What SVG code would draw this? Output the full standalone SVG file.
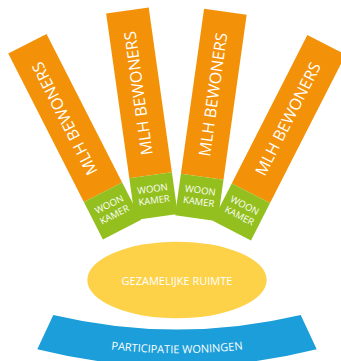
<svg xmlns="http://www.w3.org/2000/svg" width="341" height="361" viewBox="0 0 341 361">
<style>
.or{fill:#F39208}
.gr{fill:#93C01F}
.t{fill:#fff;font-family:"Open Sans","Liberation Sans",sans-serif}
.big{font-size:16px;text-anchor:middle}
.sm{font-size:9.5px;text-anchor:middle}
</style>
<defs>
<path id="arc" d="M 0,324.7 A 562.7 562.7 0 0 0 354,324.7"/>
</defs>
<rect width="341" height="361" fill="#fff"/>
<g id="bar1" transform="translate(103,192.2) rotate(-27)">
<rect class="or" x="-21.5" y="-166.5" width="43" height="166.5"/>
<rect class="gr" x="-21.5" y="0" width="43" height="42"/>
<text class="t big" transform="rotate(-90)" x="83" y="5">MLH BEWONERS</text>
<text class="t sm" x="0" y="17">WOON</text>
<text class="t sm" x="0" y="28.5">KAMER</text>
</g>
<g id="bar2" transform="translate(150.6,175.3) rotate(-8)">
<rect class="or" x="-21.5" y="-166.5" width="43" height="166.5"/>
<rect class="gr" x="-21.5" y="0" width="43" height="42"/>
<text class="t big" transform="rotate(-90)" x="83" y="5">MLH BEWONERS</text>
<text class="t sm" x="0" y="17">WOON</text>
<text class="t sm" x="0" y="28.5">KAMER</text>
</g>
<g id="bar3" transform="translate(202.2,176.7) rotate(8)">
<rect class="or" x="-21.5" y="-166.5" width="43" height="166.5"/>
<rect class="gr" x="-21.5" y="0" width="43" height="42"/>
<text class="t big" transform="rotate(-90)" x="83" y="5">MLH BEWONERS</text>
<text class="t sm" x="0" y="17">WOON</text>
<text class="t sm" x="0" y="28.5">KAMER</text>
</g>
<g id="bar4" transform="translate(250.9,193.2) rotate(27)">
<rect class="or" x="-21.5" y="-166.5" width="43" height="166.5"/>
<rect class="gr" x="-21.5" y="0" width="43" height="42"/>
<text class="t big" transform="rotate(-90)" x="83" y="5">MLH BEWONERS</text>
<text class="t sm" x="0" y="17">WOON</text>
<text class="t sm" x="0" y="28.5">KAMER</text>
</g>
<g id="ruimte">
<ellipse cx="177" cy="280" rx="89.7" ry="38.3" fill="#FDD249"/>
<text class="t" x="177" y="285" font-size="11" text-anchor="middle">GEZAMELIJKE RUIMTE</text>
</g>
<g id="participatie">
<path d="M 53.3,315 A 538.7 538.7 0 0 0 300.7,315 L 316.7,349.3 A 576 576 0 0 1 37.3,349.3 Z" fill="#1B9ED9"/>
<text class="t" font-size="11" text-anchor="middle"><textPath href="#arc" startOffset="50%">PARTICIPATIE WONINGEN</textPath></text>
</g>
<g id="connectors"/>
</svg>
